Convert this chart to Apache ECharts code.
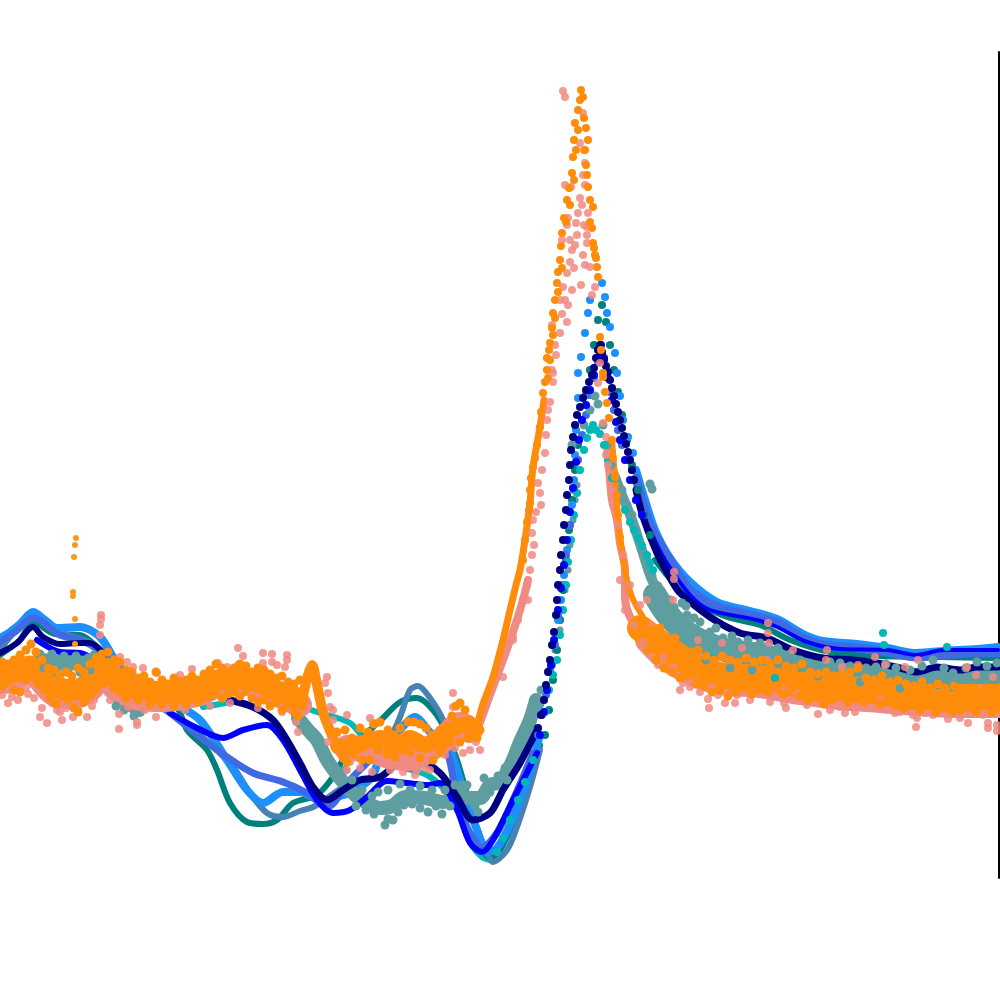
<!DOCTYPE html>
<html><head><meta charset="utf-8">
<style>html,body{margin:0;padding:0;background:#fff}#c{width:1000px;height:1000px}</style>
<script src="https://cdn.jsdelivr.net/npm/echarts@6/dist/echarts.min.js"></script></head>
<body><div id="c"></div>
<script>
const turquoiseCurve=[203,707,220,704,232,702];
const turquoiseCurve2=[300,706,320,713,350,723,365,740,383,757,405,768,427,775,445,790,457,807,466,830,473,847,482,857,490,860];
const turquoiseDots=[497,852,503,838,510,820,518,800,525,782,533,760,540,735,545,712,549,690,553,675,557,660,560,635,563,610,566,585,568,562,571,540,574,515,577,493,580,470,584,450,587,438,590,430,593,425,596,430,600,434,604,445,608,460,612,478,625,510,630,522,634,530,638,538,642,546,647,555,650,563,653,570,883,633,884,645,947,647,938,685,952,687,775,678,713,658];

const cadetBandL=[40,660,60,662,80,662,96,664];
const cadetL2=[100,680,112,694,125,704,140,712];
const cadetMid=[298,718,308,730,317,740,327,760,343,782,355,795,367,803,380,808,392,806,405,797,425,798,443,802,458,795,470,798,480,798,490,785,500,782,512,762,520,742,530,720,536,700];
const cadetDesc=[612,470,622,495,632,520,642,550,650,575,658,592];
const cadetDots=[40,654,46,658,52,654,58,660,64,656,70,660,76,656,82,660,88,658,94,655,44,668,50,668,56,672,62,666,68,672,74,666,80,672,90,670,116,706,124,710,134,716,366,810,374,814,382,810,388,819,393,820,398,812,356,806,385,825,404,805,412,804,420,808,428,812,436,806,442,814,450,806,462,785,475,806,478,812,484,778,490,792,498,776,505,768,507,780,524,730,532,722,540,704,541,690,572,445,578,440,584,425,590,410,595,396,598,404,603,425,607,445,611,465,616,478,622,490,627,505,632,515,636,530,641,548,647,560,652,576,658,586,670,600,686,606,650,484,652,489,682,603,687,615,700,622,710,632,723,638,738,642,760,643,778,648,800,660,820,667,840,663,866,668,886,664,910,670,933,660,953,673,977,662,997,663,690,652,706,660,730,668,752,670,818,676,860,682,900,688,664,600,674,607,694,618,716,628,732,636,748,640,768,646,790,654,810,664,830,662,850,666,876,667,896,668,922,666,944,668,966,668,987,666,345,770,352,780,362,790,372,796,378,792,388,790,400,784,410,790,420,786,432,790,445,790,455,785,467,785];
const cadetDotsLow=[562,610,565,590,568,570,570,545,573,520,575,500,577,485,579,470,545,690,550,670,555,650,560,630];
const cadetRight=[655,595,668,615,690,635,725,650,760,655,800,665,840,670,880,677,920,680,960,680,999,680];

const tealCurve=[0,655,20,640,33,622,55,634,80,635,100,650,125,680,150,695,177,708,187,730,207,750,217,770,230,803,247,822,263,824,277,820,293,803,317,795,333,777,343,760,367,733,383,718,400,702,417,698,433,710,447,733,457,760,465,787,473,817,483,850,490,858,500,850,513,823,530,783,540,745];
const tealRight=[655,560,680,590,700,605,727,617,760,625,790,640,830,652,880,656,940,657,998,658];
const tealDots=[545,735,549,710,553,680,557,650,560,620,563,590,566,560,569,530,572,500,575,470,578,445,582,420,586,395,590,370,594,345,598,320,602,305,606,322,610,345,614,370,618,392,622,415,627,440,632,465,638,490,644,515,650,535];

const steelCurve=[0,650,33,618,60,632,95,645,130,680,170,712,200,735,233,767,250,793,267,813,283,817,300,811,313,807,327,798,345,785,357,773,375,755,390,738,400,717,410,690,418,686,430,698,443,720,453,753,463,787,473,817,487,853,493,862,507,850,517,827,530,787,540,750];

const dodgerCurve=[0,638,10,632,20,624,33,612,45,620,57,628,80,627,100,637,115,660,130,678,150,692,177,705,200,720,227,760,247,790,263,803,283,792,300,792,320,800,340,796,355,790,372,777,380,757,400,730,415,717,428,730,450,753,463,790,477,830,487,852,497,848,510,825,520,800,530,770,540,735];
const dodgerRight=[636,470,645,500,655,530,670,558,690,582,717,602,750,611,777,619,803,634,823,641,857,644,887,648,917,653,943,651,977,649,998,647];
const dodgerDots=[544,712,548,690,552,665,555,645,558,620,561,600,564,575,567,550,570,525,572,505,574,480,575,455,576,430,578,398,578,373,581,357,585,333,588,313,590,300,602,283,605,297,607,313,610,327,615,353,617,373,620,396,623,420,628,437,633,453];

const royalCurve=[0,642,15,632,33,618,60,635,80,640,95,648,130,685,170,713,200,737,227,757,253,773,283,782,307,793,327,807,350,780,363,767,380,753,405,755,430,745,447,753,457,800,470,833,482,847,497,833,513,800,533,753];
const royalRight=[636,478,650,525,670,560,690,590,717,607,750,615,777,623,803,638,823,645,857,648,887,652,917,657,943,655,977,653,998,653];
const royalDots=[538,735,542,715,546,695,550,670,554,645,558,615,562,585,566,555,570,525,574,490,578,460,582,435,586,415,590,395,594,378,598,362,602,355,606,372,610,392,614,410,618,430,622,445,628,460,632,470];

const blueCurveA=[37,640,60,652,80,653,95,660];
const blueCurveB=[170,713,197,728,223,738,243,730,267,725,283,740,300,770,317,800,333,813,350,810,367,797,387,781,407,783,427,785,440,783,457,810,470,843,482,852,493,840,513,800,537,753];
const blueRight=[650,530,665,560,690,595,710,610,757,620,777,627,807,642,840,649,887,650,917,655,943,650,980,650,998,650];
const blueDots=[540,735,544,712,547,690,551,665,554,640,558,610,561,588,564,565,567,540,570,512,573,488,576,462,579,440,582,420,586,405,590,390,594,375,598,358,601,345,604,358,608,378,612,400,616,422,620,440,625,460,630,480,636,500,642,515];

const navyCurveA=[0,653,17,643,33,627,43,637,60,644,80,643,90,643,102,652];
const navyCurveB=[230,700,253,707,273,720,287,740,300,763,313,787,327,800,343,790,360,780,380,777,400,763,420,762,440,773,457,797,473,820,490,813,503,790,520,763,537,730];
const navyRight=[636,490,643,517,657,553,673,583,680,593,710,617,740,633,767,638,793,650,823,658,853,660,877,663,900,668,917,672,937,667,960,670,977,667,998,667];
const navyDots=[538,728,541,715,544,700,546,685,548,672,550,660,552,645,554,632,556,615,557,600,558,585,560,570,561,555,563,540,564,525,566,510,567,495,569,480,570,465,571,450,573,437,575,425,577,415,580,407,583,398,586,390,589,382,592,375,594,368,596,358,598,350,600,345,602,352,604,360,606,366,608,372,610,380,612,388,614,396,616,404,618,412,620,420,622,428,624,436,626,444,628,452,630,460,632,470,634,480];

const salmonCoreL=[0,682,15,678,30,670,40,680,55,695,75,697,90,690,105,676,120,690,135,698,165,700,200,694,217,686,245,684,275,694,300,705];
const salmonCoreM=[347,748,370,750,390,756,410,758,425,752,445,738,460,725,470,730];
const salmonCoreR=[648,640,663,655,690,672,720,682,760,685,800,692,840,697,880,700,920,703,960,705,999,705];
const salmonUp=[478,728,490,695,503,660,513,632,523,600,528,580];
const salmonDown=[607,445,610,480,612,500,617,520,620,543,625,570,625,597,630,617,640,630];
const salmonDots=[8,703,40,717,47,723,62,720,73,717,87,717,57,710,42,708,52,703,78,710,2,695,12,697,20,692,26,688,34,698,66,708,92,706,101,615,101,619,100,625,100,635,119,714,119,729,137,722,137,725,156,717,108,693,238,648,243,656,263,653,272,654,287,655,287,660,272,662,277,665,285,667,263,663,218,663,192,669,180,675,157,673,143,668,120,657,127,662,133,667,227,667,238,665,327,677,325,683,328,693,330,707,333,720,337,733,328,742,333,710,347,715,370,718,373,723,417,770,397,763,347,770,350,762,453,693,453,707,463,753,480,750,476,742,410,766,403,772,425,768,385,760,503,677,513,640,518,620,563,91,565,97,583,113,580,143,585,163,565,185,571,187,580,198,578,213,588,213,568,218,576,223,567,225,587,227,577,235,587,235,562,240,575,245,572,250,587,243,570,262,567,273,590,267,563,287,595,287,592,295,565,300,568,305,562,314,567,322,552,325,560,333,555,345,556,355,553,373,600,363,553,382,550,402,547,420,545,453,538,483,540,493,533,520,532,533,530,570,523,600,513,637,598,383,603,423,647,600,643,642,663,657,673,600,674,572,674,579,683,683,690,687,695,682,673,668,708,699,709,708,712,687,725,703,737,695,755,693,773,692,785,690,784,703,786,708,797,693,807,705,818,714,840,707,845,713,862,705,880,700,900,712,913,715,916,727,917,718,933,715,948,719,953,714,968,723,988,723,988,728,997,725,997,731,983,715,768,623,768,633,769,643,767,660,698,640,722,643,723,657,742,648,747,658,793,650,827,650,826,660,842,667,858,665,875,657,885,665,905,667,918,660,967,667,976,675,993,677,982,688,552,370,548,410,546,435,542,470,541,505,536,512,534,545,532,555,527,585,528,600,584,150,583,175,585,185,582,205,584,225,583,255,585,265,581,285,570,240,574,268,572,290,560,300,606,437,608,465,613,490,606,455,618,525,623,555,630,585,640,605,650,625,620,580,625,610,634,625,648,648,658,665,668,670,680,690,700,692,718,695,735,703,750,700,770,702,830,710,855,712,895,713,925,713,960,718,8,690,18,700,28,694,60,712,94,700,110,700,128,707,145,710,172,706,185,710,210,706,230,703,258,708,282,712,296,722,298,732,360,768,372,772,390,770,415,775,430,770,445,755,455,748,470,750];

const orangeCoreL=[0,672,15,672,30,666,40,674,55,686,75,690,90,682,105,668,120,682,135,688,165,692,200,688,217,680,245,678,275,690,298,698];
const orangeBump=[302,700,308,675,312,665,317,685,323,712,333,738];
const orangeCoreM=[338,746,350,748,365,742,380,738,395,745,410,738,425,745,440,738,455,728,465,725,475,728];
const orangeUp=[476,732,482,707,493,677,503,640,510,610,516,585,520,570,525,540,530,503,533,467,540,427,544,400];
const orangeDown=[612,440,615,477,620,537,625,570,632,597,643,617];
const orangeCoreR=[640,628,663,645,687,662,720,675,760,678,800,685,840,688,880,692,920,697,960,697,999,697];
const orangeTopL=[2,662,8,664,14,660,20,655,26,650,31,644,36,652,42,660,48,668,54,670,60,675,66,672,72,676,78,668,84,672,90,664,96,658,102,654,108,652,114,660,120,662,126,670,132,672,138,678,144,676,150,682,156,672,162,680,168,684,174,678,180,682,186,680,192,676,198,680,204,674,210,670,216,664,222,668,228,672,234,668,240,664,246,666,252,672,258,668,264,670,270,674,276,678,282,676,288,682,294,684,300,680];
const orangeLowL=[2,686,8,682,14,690,20,692,26,680,32,676,38,684,44,690,50,698,56,704,62,696,68,700,74,708,78,712,84,702,90,696,96,690,102,684,108,682,114,688,120,692,126,698,132,690,138,700,144,696,150,704,156,700,162,704,168,698,174,706,180,700,186,704,192,698,198,702,204,698,210,696,216,692,222,698,228,694,234,692,240,696,246,690,252,698,258,702,264,700,270,706,276,702,282,710,288,704,294,712,298,716,302,706];
const orangeSpike=[76,538,75,545,74,557,73,592,73,596,75,619,75,644];
const orangeEdgeM=[337,732,345,730,352,738,360,728,368,732,374,724,380,722,388,730,394,735,400,728,408,722,414,722,420,724,426,728,432,735,440,730,446,726,452,716,456,706,460,703,465,710,470,720,472,735,343,758,347,762,354,754,362,760,370,760,378,750,387,754,395,757,402,750,410,752,420,758,433,760,440,752,443,747,450,742,460,742,468,738,477,738,480,730];
const orangeDots=[523,560,525,540,527,522,529,510,530,503,530,490,531,478,533,467,535,458,537,445,540,427,541,412,543,393,545,382,547,370,547,358,549,350,550,343,552,328,553,313,555,300,557,283,558,272,560,260,561,246,562,233,564,218,567,200,569,188,572,173,573,157,574,140,575,123,578,110,580,100,581,90,583,97,584,118,586,128,588,140,586,165,588,187,593,207,590,222,593,243,595,255,597,267,598,277,600,337,601,350,603,373,603,377,605,392,607,403,609,418,612,440,613,458,615,477,617,495,618,515,620,537,550,360,553,335,548,378,555,318,558,292,562,268,566,222,570,205,574,180,576,150,578,130,585,150,587,175,590,200,592,228,594,248,596,258];
const orangeTopR=[645,622,652,630,660,628,668,640,675,638,682,648,690,652,698,650,706,656,714,660,722,656,730,660,738,662,746,658,754,662,762,660,770,664,778,660,786,666,794,668,802,664,810,672,818,674,826,672,834,676,842,674,850,672,858,668,866,678,874,680,882,676,890,682,898,680,906,684,914,686,922,682,930,688,938,684,946,690,954,686,962,690,970,688,978,692,986,688,994,690,999,688];
const orangeLowR=[648,650,656,660,664,668,672,672,680,678,688,676,696,684,704,686,712,692,720,690,728,696,736,692,744,688,752,694,760,690,768,692,776,686,784,694,792,688,800,696,808,700,816,698,824,704,832,700,840,696,848,702,856,698,864,702,872,698,880,704,888,700,896,706,904,708,912,704,920,710,928,706,936,712,944,708,952,712,960,710,968,708,976,712,984,706,992,712,999,708];

const colors={turquoise:'#00b8b8',cadet:'#5f9ea0',teal:'#00807c',steel:'#4682b4',dodger:'#1e8fff',royal:'#4169e1',blue:'#0000ff',navy:'#000080',salmon:'#f08a82',orange:'#ff8c0a'};
const pairs=f=>{const o=[];for(let i=0;i<f.length;i+=2)o.push([f[i],f[i+1]]);return o;};
const line=(f,c,w)=>({type:'line',data:pairs(f),smooth:0.3,showSymbol:false,silent:true,lineStyle:{color:c,width:w,cap:'round',join:'round'},z:2});
const dots=(f,c,s,o)=>({type:'scatter',data:pairs(f),symbolSize:s,silent:true,itemStyle:{color:c,opacity:o||1},z:2});
const series=[
 line(turquoiseCurve,colors.turquoise,6),line(turquoiseCurve2,colors.turquoise,6),
 dots(cadetDotsLow,colors.cadet,7),
 line(tealCurve,colors.teal,6),line(tealRight,colors.teal,6),dots(tealDots,colors.teal,8),
 line(steelCurve,colors.steel,6),
 line(dodgerCurve,colors.dodger,8),line(dodgerRight,colors.dodger,8),dots(dodgerDots,colors.dodger,8),
 line(royalCurve,colors.royal,7),line(royalRight,colors.royal,9),dots(royalDots,colors.royal,8),
 line(cadetBandL,colors.cadet,14),line(cadetL2,colors.cadet,10),line(cadetMid,colors.cadet,14),line(cadetDesc,colors.cadet,10),line(cadetRight,colors.cadet,24),dots(cadetDots,colors.cadet,9),
 dots(turquoiseDots,colors.turquoise,8),
 line(blueCurveA,colors.blue,6),line(blueCurveB,colors.blue,6),line(blueRight,colors.blue,4),dots(blueDots,colors.blue,8),
 line(navyCurveA,colors.navy,6),line(navyCurveB,colors.navy,7),line(navyRight,colors.navy,7),dots(navyDots,colors.navy,8),
 line(salmonCoreL,colors.salmon,24),line(salmonCoreM,colors.salmon,26),line(salmonCoreR,colors.salmon,26),line(salmonUp,colors.salmon,8),line(salmonDown,colors.salmon,8),dots(salmonDots,colors.salmon,8,0.85),
 line(orangeCoreL,colors.orange,21),line(orangeBump,colors.orange,10),line(orangeCoreM,colors.orange,16),line(orangeUp,colors.orange,7),line(orangeDown,colors.orange,6),line(orangeCoreR,colors.orange,26),
 dots(orangeTopL,colors.orange,9),dots(orangeLowL,colors.orange,9),dots(orangeSpike,'#f99a1e',6),dots(orangeEdgeM,colors.orange,9),dots(orangeDots,colors.orange,8),dots(orangeTopR,colors.orange,9),dots(orangeLowR,colors.orange,9)
];
const chart=echarts.init(document.getElementById('c'),null,{renderer:'canvas'});
chart.setOption({animation:false,backgroundColor:'#fff',
 grid:{left:0,right:1,top:52,bottom:122},
 xAxis:{type:'value',min:0,max:999,show:false},
 yAxis:{type:'value',inverse:true,min:52,max:878,position:'right',axisLine:{show:true,onZero:false,lineStyle:{color:'#000',width:2}},axisTick:{show:false},axisLabel:{show:false},splitLine:{show:false}},
 series});
</script></body></html>
